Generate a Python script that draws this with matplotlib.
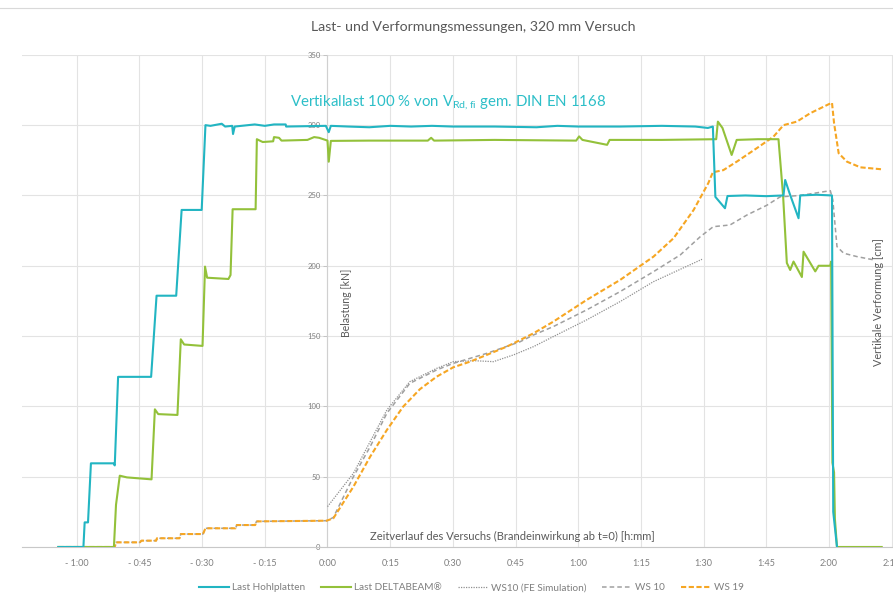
import matplotlib
matplotlib.use("Agg")
import matplotlib.pyplot as plt
from matplotlib.lines import Line2D

plt.rcParams['font.family'] = ['Lato', 'DejaVu Sans']
plt.rcParams['mathtext.fontset'] = 'custom'
plt.rcParams['mathtext.rm'] = 'Lato'

# time in minutes relative to start of fire exposure (t=0)
cyan_t = [-64.4, -58.4, -58.1, -57.3, -56.6, -51.2, -50.9, -50.1, -42.2, -40.9, -36.2, -34.9,
          -30.1, -29.2, -28.0, -25.3, -24.5, -22.8, -22.6, -22.2, -17.4, -15.0, -12.8, -10.0,
          -9.9, -0.4, 0.3, 0.8, 5.0, 10.0, 15.0, 20.0, 25.0, 30.0, 40.0, 50.0, 55.0, 60.0,
          70.0, 80.0, 88.0, 91.0, 92.2, 92.8, 95.1, 95.7, 100.0, 105.0, 109.1, 109.5, 110.5,
          112.7, 113.1, 117.0, 120.7, 121.0, 121.9]
cyan_v = [0, 0, 17.5, 17.5, 59.5, 59.5, 58, 121, 121, 178.7, 178.7, 239.7,
          239.7, 300, 299.5, 301, 299, 299.5, 293.7, 299, 300.5, 299.5, 300.5, 300.5,
          299, 299.5, 295, 299.5, 299, 298.5, 299.5, 299, 299.5, 299, 299, 298.5, 299.5, 299,
          299, 299.5, 299, 298, 299, 249, 240.9, 249.6, 250, 249.5, 250, 261, 252,
          233.8, 250, 250.5, 250, 25, 0]

green_t = [-64.4, -51.1, -50.6, -49.7, -48.0, -42.1, -41.3, -40.5, -35.9, -35.1, -34.3, -29.9,
           -29.3, -28.8, -23.7, -23.2, -22.7, -17.2, -16.9, -15.5, -13.0, -12.8, -11.6, -11.0,
           -4.8, -3.2, -2.0, 0.0, 0.3, 0.8, 10.0, 24.0, 24.8, 25.5, 40.0, 59.5, 60.2, 61.0,
           66.9, 67.5, 80.0, 93.0, 93.4, 94.5, 96.7, 97.9, 103.0, 107.9, 109.0, 109.9, 110.7,
           111.5, 113.5, 113.9, 116.7, 117.5, 120.3, 120.5, 120.8, 121.2, 121.4, 121.9, 132.6]
green_v = [0, 0, 30, 50.7, 49.5, 48.1, 97.9, 94.5, 93.9, 147.7, 144, 143,
           199.4, 191.5, 190.6, 193.4, 240.2, 240.2, 290, 288, 288.5, 291.5, 291, 289,
           289.5, 291.5, 291, 289, 274, 288.8, 289, 289, 291, 289, 289.5, 289, 292, 289.5,
           286, 289.5, 289.5, 290, 302.5, 298, 278.8, 289.5, 290, 290, 250, 202, 197,
           203, 192, 210, 196, 200, 200, 203, 60, 53, 20, 0, 0]

fe_t = [0.0, 6.2, 14.2, 19.7, 26.1, 30.1, 35.0, 39.7, 44.5, 49.3, 54.0, 62.0, 70.0, 78.0, 89.6]
fe_v = [28.7, 52.4, 97.4, 117.6, 127, 131.8, 132.5, 131.8, 136.6, 142.5, 149.6, 161.5, 174.5,
        188.7, 204.6]

ws10_t = [-64.4, -50.9, -50.6, -44.9, -44.5, -41.0, -40.8, -35.4, -35.1, -29.8, -29.2, -22.0,
          -21.7, -17.3, -17.0, -0.2, 1.4, 6.2, 10.2, 14.2, 19.7, 26.1, 30.1, 38.1, 46.1, 49.3,
          54.0, 62.0, 70.0, 78.0, 84.4, 89.2, 92.3, 96.3, 100.3, 105.1, 108.3, 113.1, 120.3,
          120.9, 121.9, 123.5, 126.7, 131.0]
ws10_v = [0, 0, 3.3, 3.3, 4.5, 4.5, 6.2, 6.2, 9.2, 9.2, 13.3, 13.3,
          15.6, 15.6, 18.2, 18.7, 21, 50, 71.3, 95.1, 116.4, 125.9, 130.6, 137.7, 146, 150.8,
          156.7, 168.6, 181.6, 195.8, 207.7, 220.7, 227.8, 229, 236, 243, 249, 250, 253.4,
          246.8, 213.6, 208.9, 206.5, 204]

ws19_t = [-64.4, -50.9, -50.6, -44.9, -44.5, -41.0, -40.8, -35.4, -35.1, -29.8, -29.2, -22.0,
          -21.7, -17.3, -17.0, -0.2, 1.4, 6.2, 10.2, 14.2, 18.1, 22.1, 26.1, 30.1, 34.1, 38.1,
          42.9, 46.1, 49.3, 54.0, 62.0, 70.0, 78.0, 82.8, 87.6, 91.1, 92.2, 94.7, 97.9, 102.7,
          106.7, 109.1, 112.3, 115.5, 120.7, 121.2, 122.3, 124.3, 127.5, 132.6]
ws19_v = [0, 0, 3.3, 3.3, 4.5, 4.5, 6.2, 6.2, 9.2, 9.2, 13.3, 13.3,
          15.6, 15.6, 18.2, 18.7, 20.4, 42.9, 64.2, 83.2, 99.8, 112.2, 121.1, 127.8, 131.8, 136.6,
          142.5, 147.2, 152, 160.2, 175.7, 189.9, 206.5, 219.6, 239.7, 258.7, 266.5, 268, 274,
          283.6, 291.8, 300, 302.5, 308.5, 316, 301.4, 280, 274, 270, 268.6]

x_ticks = [-60, -45, -30, -15, 0, 15, 30, 45, 60, 75, 90, 105, 120, 135]
x_labels = ['- 1:00', '- 0:45', '- 0:30', '- 0:15', '0:00', '0:15', '0:30', '0:45',
            '1:00', '1:15', '1:30', '1:45', '2:00', '2:15']
y_ticks = [0, 50, 100, 150, 200, 250, 300, 350]

c_cyan = '#22B5C2'
c_green = '#93C13A'
c_orange = '#F6A623'
c_grey = '#A0A0A0'
c_text = '#7F7F7F'

fig = plt.figure(figsize=(8.93, 5.98), dpi=100)
ax = fig.add_axes([0.0246, 0.0853, 0.9754, 0.823])

ax.plot(fe_t, fe_v, color='#909090', lw=0.9, ls=(0, (1, 1)), label='WS10 (FE Simulation)', zorder=3)
ax.plot(ws10_t, ws10_v, color=c_grey, lw=1.1, ls=(0, (3, 2)), label='WS 10', zorder=3)
ax.plot(ws19_t, ws19_v, color=c_orange, lw=1.5, ls=(0, (2.5, 1.2)), label='WS 19', zorder=4)
ax.plot(green_t, green_v, color=c_green, lw=1.5, label='Last DELTABEAM®', zorder=5)
ax.plot(cyan_t, cyan_v, color=c_cyan, lw=1.5, label='Last Hohlplatten', zorder=6)

ax.set_xlim(-73.1, 135.3)
ax.set_ylim(0, 350)
ax.set_xticks(x_ticks)
ax.set_xticklabels(x_labels)
ax.set_yticks(y_ticks)
ax.tick_params(axis='x', length=0, pad=9, labelsize=6.5, labelcolor=c_text)
ax.tick_params(axis='y', length=3, width=0.6, color='#BFBFBF', pad=2, labelsize=5.5,
               labelcolor=c_text)
ax.grid(True, color='#E3E3E3', lw=0.8)
ax.set_axisbelow(True)
for s in ['top', 'right']:
    ax.spines[s].set_visible(False)
ax.spines['left'].set_position(('data', 0))
ax.spines['left'].set_color('#D0D0D0')
ax.spines['left'].set_linewidth(0.8)
ax.spines['bottom'].set_color('#C8C8C8')
ax.spines['bottom'].set_linewidth(0.8)

ax.text(4.6, 174, 'Belastung [kN]', rotation=90, ha='center', va='center',
        fontsize=7.6, color='#595959')
ax.text(131.8, 174, 'Vertikale Verformung [cm]', rotation=90, ha='center', va='center',
        fontsize=7.8, color='#595959')
ax.text(44.3, 7.8, 'Zeitverlauf des Versuchs (Brandeinwirkung ab t=0) [h:mm]',
        ha='center', va='center', fontsize=8, color='#595959')
ax.text(-9.0, 315.8, r'Vertikallast 100 % von V$_{\mathregular{Rd,fi}}$ gem. DIN EN 1168',
        ha='left', va='center', fontsize=10.8, color='#2DBFC8')

fig.text(0.53, 0.955, 'Last- und Verformungsmessungen, 320 mm Versuch',
         ha='center', va='center', fontsize=10.2, color='#595959')
fig.add_artist(Line2D([0, 1], [0.987, 0.987], color='#D9D9D9', lw=0.8))

handles, labels = ax.get_legend_handles_labels()
order = [4, 3, 0, 1, 2]
fig.legend([handles[i] for i in order], [labels[i] for i in order], loc='center',
           bbox_to_anchor=(0.528, 0.017), ncol=5, frameon=False, fontsize=7.2,
           handlelength=3.0, handletextpad=0.3, columnspacing=1.6, labelcolor=c_text)

fig.savefig('out.png', dpi=100)
